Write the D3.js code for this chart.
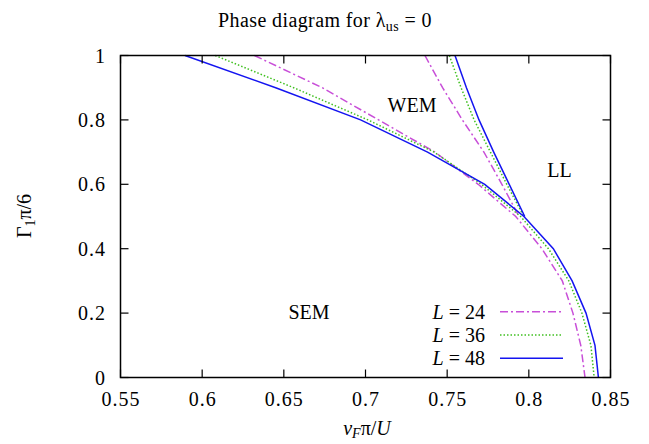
<!DOCTYPE html>
<html>
<head>
<meta charset="utf-8">
<script src="https://cdn.jsdelivr.net/npm/d3@7"></script>
<style>
body { margin: 0; background: #fff; }
text { font-family: "Liberation Serif", serif; fill: #000; }
</style>
</head>
<body>
<div id="chart"></div>
<script>
// lower branch (SEM boundary), Gamma from 1 down to 0
const gammaA = [1, 0.9, 0.8, 0.7, 0.6, 0.5, 0.4, 0.3, 0.2, 0.1, 0];
const vA24 = [0.632, 0.6735, 0.708, 0.7425, 0.769, 0.792, 0.808, 0.8205, 0.827, 0.8318, 0.8344];
const vA36 = [0.608, 0.656, 0.7015, 0.742, 0.771, 0.795, 0.812, 0.8245, 0.8325, 0.838, 0.840];
const vA48 = [0.5895, 0.645, 0.697, 0.738, 0.773, 0.797, 0.815, 0.8265, 0.835, 0.8405, 0.8426];
// steep branch (WEM / LL boundary)
const gammaB = [1, 0.9, 0.8, 0.7, 0.6, 0.5];
const vB24 = [0.7364, 0.7472, 0.7593, 0.7725, 0.7835, 0.794];
const vB36 = [0.7513, 0.7585, 0.7665, 0.7765, 0.7865, 0.797];
const vB48 = [0.7548, 0.7618, 0.7695, 0.7785, 0.788, 0.7975];

const sizes = ["24", "36", "48"];
const xTicks = [0.55, 0.6, 0.65, 0.7, 0.75, 0.8, 0.85];
const yTicks = [0, 0.2, 0.4, 0.6, 0.8, 1];

const width = 649, height = 444;
const pLeft = 120.5, pRight = 610.5, pTop = 55.5, pBottom = 377.5;

const svg = d3.select("#chart").append("svg")
    .attr("width", width)
    .attr("height", height);

const x = d3.scaleLinear().domain([0.55, 0.85]).range([pLeft, pRight]);
const y = d3.scaleLinear().domain([0, 1]).range([pBottom, pTop]);

// styles des courbes
const styles = [
    { color: "#c84fd8", dash: "8,3,2,3" },
    { color: "#40c020", dash: "1.5,2" },
    { color: "#1414f0", dash: null }
];
const branchesA = [vA24, vA36, vA48];
const branchesB = [vB24, vB36, vB48];

const line = d3.line().x(d => x(d[0])).y(d => y(d[1]));

const curves = svg.append("g");
[0, 1, 2].forEach(i => {
    [[branchesA[i], gammaA], [branchesB[i], gammaB]].forEach(b => {
        const pts = b[0].map((v, k) => [v, b[1][k]]);
        curves.append("path")
            .attr("d", line(pts))
            .attr("fill", "none")
            .attr("stroke", styles[i].color)
            .attr("stroke-width", 1.5)
            .attr("stroke-dasharray", styles[i].dash);
    });
});

// cadre et graduations
svg.append("rect")
    .attr("x", pLeft).attr("y", pTop)
    .attr("width", pRight - pLeft).attr("height", pBottom - pTop)
    .attr("fill", "none").attr("stroke", "#000").attr("stroke-width", 1.5);

const tickLen = 8;
xTicks.forEach(t => {
    svg.append("line").attr("x1", x(t)).attr("x2", x(t)).attr("y1", pBottom).attr("y2", pBottom - tickLen)
        .attr("stroke", "#000").attr("stroke-width", 1.2);
    svg.append("line").attr("x1", x(t)).attr("x2", x(t)).attr("y1", pTop).attr("y2", pTop + tickLen)
        .attr("stroke", "#000").attr("stroke-width", 1.2);
    svg.append("text").attr("x", x(t) + 0.5).attr("y", 406)
        .attr("text-anchor", "middle").style("font-size", "20px")
        .style("letter-spacing", "1px")
        .text(t);
});
yTicks.forEach(t => {
    svg.append("line").attr("x1", pLeft).attr("x2", pLeft + tickLen).attr("y1", y(t)).attr("y2", y(t))
        .attr("stroke", "#000").attr("stroke-width", 1.2);
    svg.append("line").attr("x1", pRight).attr("x2", pRight - tickLen).attr("y1", y(t)).attr("y2", y(t))
        .attr("stroke", "#000").attr("stroke-width", 1.2);
    svg.append("text").attr("x", 106).attr("y", y(t) + 7)
        .attr("text-anchor", "end").style("font-size", "20px")
        .style("letter-spacing", "1px")
        .text(t);
});

// titre
const title = svg.append("text").attr("x", 325).attr("y", 26.5)
    .attr("text-anchor", "middle").style("font-size", "20px")
    .style("letter-spacing", "0.4px");
title.append("tspan").text("Phase diagram for λ");
title.append("tspan").attr("dy", 4).style("font-size", "14px").text("us");
title.append("tspan").attr("dy", -4).text(" = 0");

// axes
const xl = svg.append("text").attr("x", 367).attr("y", 435)
    .attr("text-anchor", "middle").style("font-size", "20px");
xl.append("tspan").style("font-style", "italic").text("v");
xl.append("tspan").attr("dy", 3).style("font-size", "14px").style("font-style", "italic").text("F");
xl.append("tspan").attr("dy", -3).text("π/");
xl.append("tspan").style("font-style", "italic").text("U");

const yl = svg.append("text").attr("transform", "translate(31,216) rotate(-90)")
    .attr("text-anchor", "middle").style("font-size", "20px");
yl.append("tspan").text("Γ");
yl.append("tspan").attr("dy", 4).style("font-size", "14px").text("1");
yl.append("tspan").attr("dy", -4).text("π/6");

// régions
[["WEM", 412, 111.5], ["LL", 559.5, 177], ["SEM", 309, 319]].forEach(r => {
    svg.append("text").attr("x", r[1]).attr("y", r[2])
        .attr("text-anchor", "middle").style("font-size", "20px").text(r[0]);
});

// légende
const legend = svg.append("g");
sizes.forEach((s, i) => {
    const cy = 311.7 + i * 23.3;
    const t = legend.append("text").attr("x", 485).attr("y", cy + 7)
        .attr("text-anchor", "end").style("font-size", "20px");
    t.append("tspan").style("font-style", "italic").text("L");
    t.append("tspan").text(" = " + s);
    legend.append("line").attr("x1", 500).attr("x2", 563).attr("y1", cy).attr("y2", cy)
        .attr("stroke", styles[i].color).attr("stroke-width", 1.5)
        .attr("stroke-dasharray", styles[i].dash);
});
</script>
</body>
</html>
